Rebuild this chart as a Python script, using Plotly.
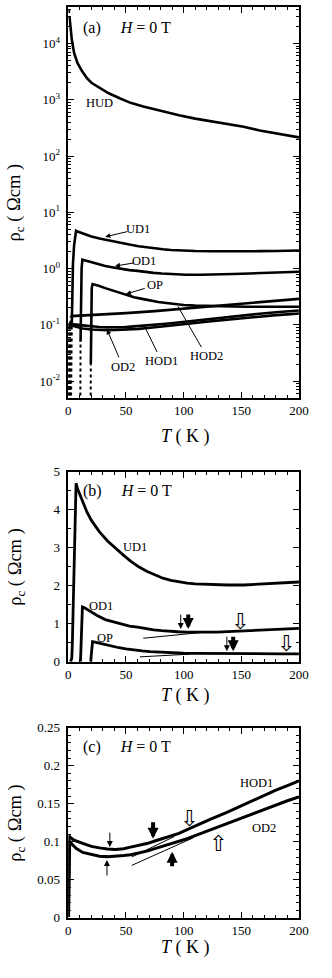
import plotly.graph_objects as go

# ---- values (T in K, rho_c in Ohm cm) ----
T_hud = [0.3, 1, 1.7, 3, 5, 8, 12, 16, 20, 27, 35, 45, 54, 65, 82, 96, 110, 124, 138, 152, 166, 183, 200]
rho_hud = [50000, 30000, 20000, 11700, 6800, 4450, 3200, 2430, 2000, 1620, 1300, 1050, 880, 760, 615, 530,
           462, 415, 378, 330, 285, 248, 214]

T_ud1 = [2.0, 3.0, 3.5, 4.0, 5.0, 6.0, 6.7, 8, 10, 12.5, 16, 20, 27, 34, 41, 48, 54, 61, 68, 75, 82, 89, 96,
         103, 110, 124, 138, 152, 166, 180, 200]
rho_ud1 = [0.001, 0.1, 0.5, 1.2, 2.6, 3.9, 4.7, 4.55, 4.4, 4.2, 3.95, 3.72, 3.42, 3.18, 2.98, 2.8, 2.65, 2.5,
           2.38, 2.28, 2.2, 2.14, 2.1, 2.07, 2.05, 2.03, 2.02, 2.02, 2.04, 2.06, 2.1]

T_od1 = [10.3, 10.6, 11, 11.5, 12.2, 14, 18, 25, 32, 39, 46, 53, 60, 67, 74, 81, 88, 95, 102, 115, 129, 143,
         157, 171, 185, 200]
rho_od1 = [0.001, 0.05, 0.4, 1.0, 1.44, 1.42, 1.34, 1.22, 1.11, 1.05, 0.98, 0.94, 0.91, 0.87, 0.84, 0.82, 0.8,
           0.79, 0.78, 0.78, 0.78, 0.8, 0.82, 0.84, 0.86, 0.88]

T_op = [19.2, 19.5, 19.8, 20.3, 21, 23, 27, 32, 38, 44, 50, 57, 64, 71, 78, 85, 92, 100, 110, 125, 140, 155,
        170, 185, 200]
rho_op = [0.001, 0.02, 0.15, 0.45, 0.53, 0.52, 0.49, 0.45, 0.41, 0.37, 0.34, 0.31, 0.29, 0.27, 0.255, 0.245,
          0.235, 0.225, 0.22, 0.215, 0.21, 0.21, 0.21, 0.21, 0.21]

T_hod2 = [1.2, 2, 25, 50, 75, 100, 125, 150, 175, 200]
rho_hod2 = [0.001, 0.143, 0.15, 0.162, 0.176, 0.195, 0.215, 0.238, 0.262, 0.29]

T_hod1 = [0.2, 0.6, 1.5, 5, 12.5, 20, 27, 34, 41, 48, 54, 61, 69, 75, 82, 89, 96, 103, 111, 124, 138, 152,
          166, 180, 190, 200]
rho_hod1 = [0.001, 0.108, 0.106, 0.102, 0.098, 0.094, 0.092, 0.0905, 0.090, 0.091, 0.093, 0.095, 0.098, 0.101,
            0.104, 0.107, 0.111, 0.116, 0.121, 0.130, 0.139, 0.149, 0.158, 0.168, 0.174, 0.180]

T_od2 = [0.1, 0.6, 1.2, 3, 7, 12.5, 20, 27, 34, 41, 48, 54, 61, 69, 75, 82, 89, 96, 103, 110, 124, 138, 152,
         166, 180, 190, 200]
rho_od2 = [0.001, 0.09, 0.101, 0.097, 0.091, 0.086, 0.083, 0.081, 0.0805, 0.081, 0.082, 0.083, 0.085, 0.088,
           0.091, 0.094, 0.097, 0.1, 0.104, 0.108, 0.116, 0.124, 0.133, 0.141, 0.149, 0.154, 0.159]

# thin straight fits drawn in (b) and (c)
T_fit_od1 = [65, 115]
rho_fit_od1 = [0.62, 0.77]
T_fit_op = [62, 105]
rho_fit_op = [0.13, 0.2]
T_fit_hod1 = [55, 92]
rho_fit_hod1 = [0.080, 0.107]
T_fit_od2 = [55, 108]
rho_fit_od2 = [0.069, 0.105]

log_ticks = [1e-2, 1e-1, 1, 10, 100, 1000, 10000]
log_ticktext = ["10<sup>-2</sup>", "10<sup>-1</sup>", "10<sup>0</sup>", "10<sup>1</sup>",
                "10<sup>2</sup>", "10<sup>3</sup>", "10<sup>4</sup>"]

W, H = 332, 978
SERIF = "Liberation Serif"


def px(x):
    return x / W


def py(y):
    return 1 - y / H


fig = go.Figure()


def curve(x, y, ax, width=2.8, dash="solid"):
    fig.add_trace(go.Scatter(x=x, y=y, xaxis="x" + ax, yaxis="y" + ax, mode="lines",
                             line=dict(color="black", width=width, dash=dash),
                             showlegend=False, hoverinfo="skip"))


# (a) log panel: the superconducting drop is drawn dotted
for T, r in [(T_hud, rho_hud), (T_ud1, rho_ud1), (T_od1, rho_od1), (T_op, rho_op),
             (T_hod2, rho_hod2), (T_hod1, rho_hod1), (T_od2, rho_od2)]:
    curve(T[:2], r[:2], "", width=2, dash="dot")
    curve(T[1:], r[1:], "", width=2.6)

# (b)
for T, r in [(T_ud1, rho_ud1), (T_od1, rho_od1), (T_op, rho_op)]:
    curve(T, r, "2")
curve(T_fit_od1, rho_fit_od1, "2", width=1)
curve(T_fit_op, rho_fit_op, "2", width=1)

# (c)
for T, r in [(T_hod1, rho_hod1), (T_od2, rho_od2)]:
    curve(T, r, "3", width=3)
curve(T_fit_hod1, rho_fit_hod1, "3", width=1)
curve(T_fit_od2, rho_fit_od2, "3", width=1)

xdom = [px(68), px(308)]
axis_common = dict(showline=True, linecolor="black", linewidth=1.5, mirror="ticks", ticks="inside",
                   tickcolor="black", ticklen=6, tickwidth=1, showgrid=False, zeroline=False,
                   tickfont=dict(family=SERIF, size=13, color="black"))

xaxis_common = dict(axis_common, range=[0, 200], tickvals=[0, 50, 100, 150, 200],
                    minor=dict(ticks="inside", dtick=10, ticklen=3, tickcolor="black"))

fig.update_layout(
    width=W, height=H, margin=dict(l=0, r=0, t=0, b=0),
    paper_bgcolor="white", plot_bgcolor="white",
    xaxis=dict(xaxis_common, domain=xdom, anchor="y"),
    yaxis=dict(axis_common, domain=[py(397), py(0)], type="log", range=[-2.297, 4.647],
               tickvals=log_ticks, ticktext=log_ticktext, ticklabelstandoff=4,
               minor=dict(ticks="inside", ticklen=3, tickcolor="black", dtick="D1")),
    xaxis2=dict(xaxis_common, domain=xdom, anchor="y2"),
    yaxis2=dict(axis_common, domain=[py(665), py(472)], range=[0, 5], dtick=1, ticklabelstandoff=4,
                minor=dict(ticks="inside", dtick=0.5, ticklen=3, tickcolor="black")),
    xaxis3=dict(xaxis_common, domain=xdom, anchor="y3"),
    yaxis3=dict(axis_common, domain=[py(925), py(732)], range=[0, 0.25], ticklabelstandoff=4,
                tickvals=[0, 0.05, 0.1, 0.15, 0.2, 0.25], ticktext=["0", "0.05", "0.1", "0.15", "0.2", "0.25"],
                minor=dict(ticks="inside", dtick=0.01, ticklen=3, tickcolor="black")),
)

ann = []
ytitle = "\u03c1<sub>c</sub> ( \u03a9cm )"
xtitle = "<i>T</i> ( K )"
mid = dict(xanchor="center", yanchor="middle", showarrow=False, xref="paper", yref="paper")
for yc in [198, 568, 828]:
    ann.append(dict(mid, x=px(14), y=py(yc), text=ytitle, textangle=-90,
                    font=dict(family=SERIF, size=18.5, color="black")))
for yc in [436, 699, 955]:
    ann.append(dict(mid, x=px(190), y=py(yc), text=xtitle,
                    font=dict(family=SERIF, size=18, color="black")))
for lab, yc in [("(a)", 21), ("(b)", 492), ("(c)", 752)]:
    ann.append(dict(mid, x=px(81), y=py(yc), xanchor="left",
                    text=lab + "\u2003 <i>H</i> = 0 T", font=dict(family=SERIF, size=16, color="black")))

lab_font = dict(family=SERIF, size=12.5, color="black")

# (a) labels (y in log10 units)
ann.append(dict(x=27, y=2.94, xref="x", yref="y", text="HUD", showarrow=False, font=lab_font))
for text, tx, ty, hx, hy, head in [("UD1", 60, 0.70, 32, 0.565, 2), ("OD1", 65.5, 0.13, 40.5, 0.045, 2),
                                    ("OP", 75, -0.30, 50, -0.45, 2), ("HOD2", 120, -1.56, 95, -0.67, 0),
                                    ("HOD1", 81, -1.65, 65.5, -1.0, 0), ("OD2", 47.5, -1.75, 33.5, -1.08, 2)]:
    ann.append(dict(x=hx, y=hy, xref="x", yref="y", ax=tx, ay=ty, axref="x", ayref="y", text="",
                    showarrow=True, arrowhead=head, arrowsize=1, arrowwidth=1, arrowcolor="black",
                    standoff=0, startstandoff=9))
    ann.append(dict(x=tx, y=ty, xref="x", yref="y", text=text, showarrow=False, font=lab_font))

# (b) labels
for text, tx, ty in [("UD1", 57.5, 3.03), ("OD1", 28, 1.47), ("OP", 32, 0.63)]:
    ann.append(dict(x=tx, y=ty, xref="x2", yref="y2", text=text, showarrow=False, font=lab_font))
# (c) labels
for text, tx, ty in [("HOD1", 163, 0.178), ("OD2", 170, 0.118)]:
    ann.append(dict(x=tx, y=ty, xref="x3", yref="y3", text=text, showarrow=False, font=lab_font))


def arrow(x, y, ax_name, up=False, thick=False, length=16):
    ann.append(dict(x=x, y=y, xref="x" + ax_name, yref="y" + ax_name, ax=0, ay=length if up else -length,
                    text="", showarrow=True, arrowhead=2, arrowcolor="black",
                    arrowwidth=4 if thick else 1, arrowsize=0.55 if thick else 1.2))


def hollow(x, y, ax_name, up=False):
    ann.append(dict(x=x, y=y, xref="x" + ax_name, yref="y" + ax_name, text="\u21e7" if up else "\u21e9",
                    showarrow=False, font=dict(family="DejaVu Sans", size=22, color="black")))


# (b) arrows
arrow(97.5, 0.86, "2")
arrow(104, 0.86, "2", thick=True)
hollow(149, 1.06, "2")
arrow(137.5, 0.28, "2")
arrow(143, 0.28, "2", thick=True)
hollow(189, 0.47, "2")
# (c) arrows
arrow(36, 0.093, "3")
arrow(33.5, 0.076, "3", up=True, length=17)
arrow(73.5, 0.104, "3", thick=True, length=18)
arrow(90, 0.087, "3", up=True, thick=True)
hollow(104.7, 0.130, "3")
hollow(130, 0.098, "3", up=True)

fig.update_layout(annotations=ann)
# the page's default body margin would shift the figure by 8 px
fig.write_html("out.html", config={"displayModeBar": False},
               post_script="document.body.style.margin='0';")
